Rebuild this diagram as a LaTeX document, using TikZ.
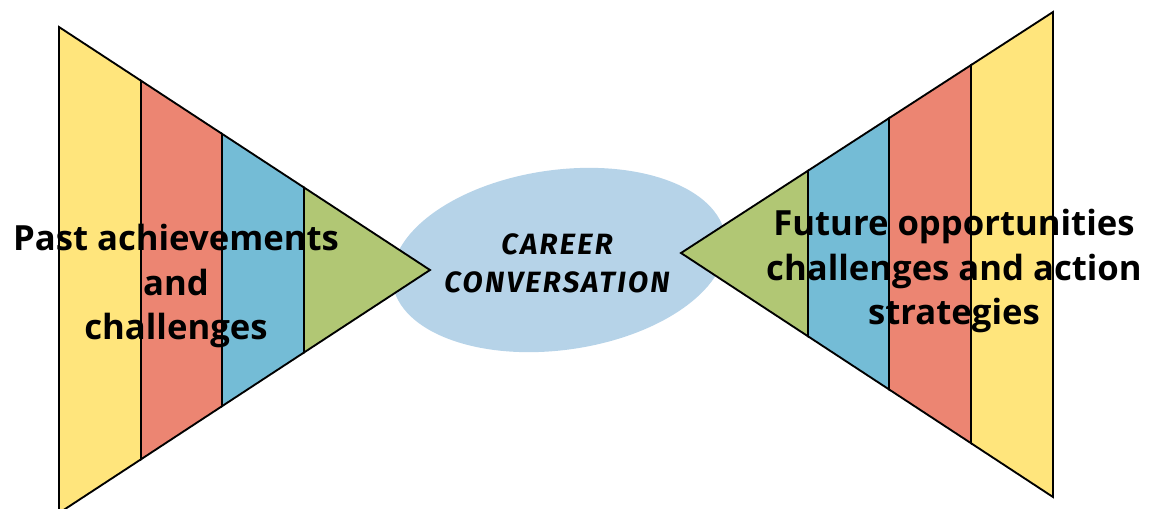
\documentclass[tikz,border=0pt]{standalone}
\usepackage{fontspec}
\setmainfont{Open Sans}
\newfontfamily\handfont[LetterSpace=8]{Fira Sans}
\usetikzlibrary{shapes.geometric}

\definecolor{bandyellow}{HTML}{FFE57C}
\definecolor{bandred}{HTML}{EC8572}
\definecolor{bandblue}{HTML}{74BCD6}
\definecolor{bandgreen}{HTML}{B1C774}
\definecolor{talkblue}{HTML}{B6D3E8}

\begin{document}
\begin{tikzpicture}[x=0.75pt, y=-0.75pt,
		band/.style={draw=black, line width=1.4pt, line join=miter},
		talk/.style={shape=ellipse, fill=talkblue, inner sep=0pt,
			minimum width=252pt, minimum height=135pt},
		hand/.style={align=center, inner sep=0pt,
			font=\handfont\bfseries\itshape\fontsize{22}{28.5}\selectfont},
		side/.style={align=center, inner sep=0pt,
			font=\bfseries\fontsize{26}{33.5}\selectfont}]

	\useasboundingbox (0,0) rectangle (1156,508);

	% bubble in the middle
	\node[talk, rotate=8] (talk) at (559,260) {};

	% left funnel, outer band first
	\path[band, fill=bandyellow] (59,27) -- (141,80.7) -- (141,459.3) -- (59,513) -- cycle;
	\path[band, fill=bandred] (141,80.7) -- (222,133.8) -- (222,406.2) -- (141,459.3) -- cycle;
	\path[band, fill=bandblue] (222,133.8) -- (304,187.5) -- (304,352.5) -- (222,406.2) -- cycle;
	\path[band, fill=bandgreen] (304,187.5) -- (430,270) -- (304,352.5) -- cycle;

	% right funnel
	\path[band, fill=bandyellow] (1053,12) -- (971,65.1) -- (971,443.2) -- (1053,497) -- cycle;
	\path[band, fill=bandred] (971,65.1) -- (889,118.2) -- (889,389.4) -- (971,443.2) -- cycle;
	\path[band, fill=bandblue] (889,118.2) -- (808,170.7) -- (808,336.3) -- (889,389.4) -- cycle;
	\path[band, fill=bandgreen] (808,170.7) -- (681,253) -- (808,336.3) -- cycle;

	% labels
	\node[hand] (talktext) at (557,263) {CAREER\\CONVERSATION};
	\node[side] (past) at (176,286) {Past achievements\\and\\challenges};
	\node[side] (future) at (954,271) {Future opportunities\\challenges and action\\strategies};
\end{tikzpicture}
\end{document}
